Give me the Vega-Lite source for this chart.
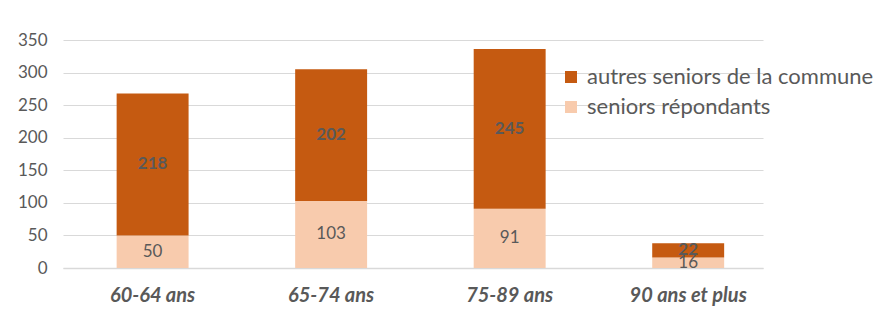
{
  "$schema": "https://vega.github.io/schema/vega-lite/v6.json",
  "width": 700,
  "height": 228,
  "autosize": {"type": "none"},
  "padding": {"left": 63, "top": 40, "right": 128, "bottom": 51},
  "background": "white",
  "data": {
    "values": [
      {"age": "60-64 ans", "groupe": "seniors répondants", "ordre": 1, "valeur": 50},
      {"age": "60-64 ans", "groupe": "autres seniors de la commune", "ordre": 2, "valeur": 218},
      {"age": "65-74 ans", "groupe": "seniors répondants", "ordre": 1, "valeur": 103},
      {"age": "65-74 ans", "groupe": "autres seniors de la commune", "ordre": 2, "valeur": 202},
      {"age": "75-89 ans", "groupe": "seniors répondants", "ordre": 1, "valeur": 91},
      {"age": "75-89 ans", "groupe": "autres seniors de la commune", "ordre": 2, "valeur": 245},
      {"age": "90 ans et plus", "groupe": "seniors répondants", "ordre": 1, "valeur": 16},
      {"age": "90 ans et plus", "groupe": "autres seniors de la commune", "ordre": 2, "valeur": 22}
    ]
  },
  "transform": [
    {"stack": "valeur", "groupby": ["age"], "sort": [{"field": "ordre", "order": "ascending"}], "as": ["y0", "y1"]},
    {"calculate": "(datum.y0 + datum.y1) / 2", "as": "ymid"}
  ],
  "encoding": {
    "x": {
      "field": "age", "type": "nominal", "sort": null,
      "scale": {"paddingInner": 0.597, "paddingOuter": 0.259, "align": 0.58},
      "axis": {
        "title": null, "labelAngle": 0, "ticks": false,
        "domainColor": "#D9D9D9", "domainWidth": 1.5,
        "labelFont": "Lato", "labelFontSize": 20, "labelFontWeight": "bold", "labelFontStyle": "italic",
        "labelColor": "#595959", "labelPadding": 17
      }
    }
  },
  "layer": [
    {
      "mark": {"type": "bar"},
      "encoding": {
        "y": {
          "field": "y0", "type": "quantitative",
          "scale": {"domain": [0, 350], "nice": false}
        },
        "y2": {"field": "y1"},
        "color": {
          "field": "groupe", "type": "nominal",
          "scale": {"domain": ["autres seniors de la commune", "seniors répondants"], "range": ["#C55A11", "#F8CBAD"]},
          "legend": {
            "title": null, "orient": "none", "legendX": 497, "legendY": 26,
            "symbolType": "square", "symbolSize": 144, "symbolStrokeWidth": 0,
            "labelFont": "Lato", "labelFontSize": 22, "labelColor": "#595959", "labelOffset": 5,
            "rowPadding": 8, "padding": 0, "labelLimit": 400
          }
        }
      }
    },
    {
      "transform": [{"filter": "datum.ordre == 2"}],
      "mark": {"type": "text", "font": "Lato", "fontSize": 17, "fontWeight": "bold", "color": "#595959", "baseline": "middle"},
      "encoding": {
        "y": {"field": "ymid", "type": "quantitative"},
        "text": {"field": "valeur", "type": "quantitative"}
      }
    },
    {
      "transform": [{"filter": "datum.ordre == 1"}],
      "mark": {"type": "text", "font": "Lato", "fontSize": 17, "color": "#595959", "baseline": "middle"},
      "encoding": {
        "y": {"field": "ymid", "type": "quantitative"},
        "text": {"field": "valeur", "type": "quantitative"}
      }
    }
  ],
  "config": {
    "view": {"stroke": null},
    "axisY": {
      "title": null, "values": [0, 50, 100, 150, 200, 250, 300, 350],
      "ticks": false, "domain": false, "labelOverlap": false,
      "gridColor": "#D9D9D9", "gridWidth": 1,
      "labelFont": "Lato", "labelFontSize": 17, "labelColor": "#595959", "labelPadding": 16
    }
  }
}
